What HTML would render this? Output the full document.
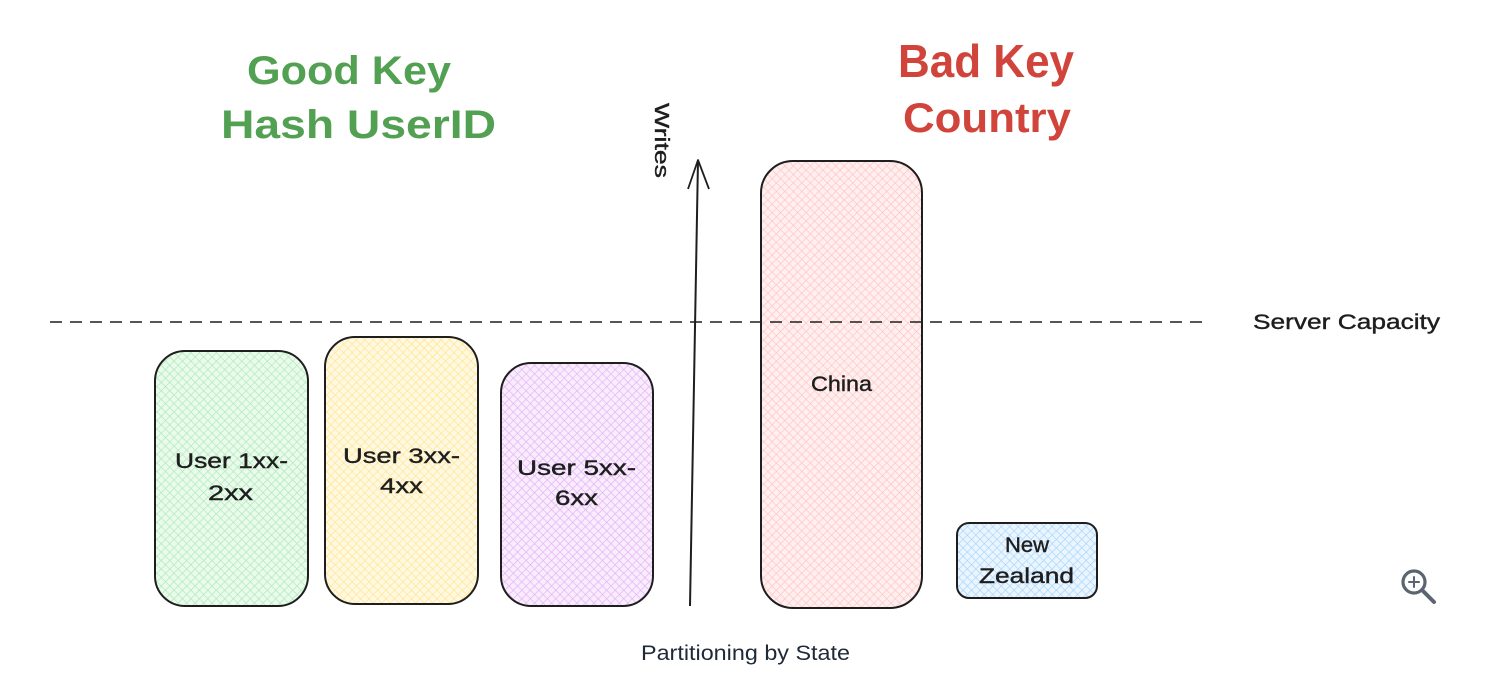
<!DOCTYPE html>
<html>
<head>
<meta charset="utf-8">
<style>
  html,body{margin:0;padding:0;background:#fff;}
  svg{display:block;}
  .hand{font-family:"Liberation Sans",sans-serif;fill:#1e1e1e;}
</style>
</head>
<body>
<svg width="1486" height="698" viewBox="0 0 1486 698" xmlns="http://www.w3.org/2000/svg">
  <defs>
    <pattern id="hg" patternUnits="userSpaceOnUse" width="6" height="6" patternTransform="rotate(45)">
      <rect width="6" height="6" fill="#eafaec"/>
      <line x1="0" y1="0" x2="0" y2="6" stroke="#a9eab3" stroke-width="1.3"/>
      <line x1="0" y1="0" x2="6" y2="0" stroke="#a9eab3" stroke-width="1.3"/>
    </pattern>
    <pattern id="hy" patternUnits="userSpaceOnUse" width="6" height="6" patternTransform="rotate(45)">
      <rect width="6" height="6" fill="#fff8e2"/>
      <line x1="0" y1="0" x2="0" y2="6" stroke="#ffe58a" stroke-width="1.3"/>
      <line x1="0" y1="0" x2="6" y2="0" stroke="#ffe58a" stroke-width="1.3"/>
    </pattern>
    <pattern id="hp" patternUnits="userSpaceOnUse" width="6" height="6" patternTransform="rotate(45)">
      <rect width="6" height="6" fill="#f9ecfd"/>
      <line x1="0" y1="0" x2="0" y2="6" stroke="#e2b0f4" stroke-width="1.3"/>
      <line x1="0" y1="0" x2="6" y2="0" stroke="#e2b0f4" stroke-width="1.3"/>
    </pattern>
    <pattern id="hr" patternUnits="userSpaceOnUse" width="6" height="6" patternTransform="rotate(45)">
      <rect width="6" height="6" fill="#ffefef"/>
      <line x1="0" y1="0" x2="0" y2="6" stroke="#ffc2c2" stroke-width="1.3"/>
      <line x1="0" y1="0" x2="6" y2="0" stroke="#ffc2c2" stroke-width="1.3"/>
    </pattern>
    <pattern id="hb" patternUnits="userSpaceOnUse" width="6" height="6" patternTransform="rotate(45)">
      <rect width="6" height="6" fill="#eaf5ff"/>
      <line x1="0" y1="0" x2="0" y2="6" stroke="#a3d4fb" stroke-width="1.3"/>
      <line x1="0" y1="0" x2="6" y2="0" stroke="#a3d4fb" stroke-width="1.3"/>
    </pattern>
  </defs>

  <!-- Titles -->
  <text x="247" y="84" font-family="Liberation Sans, sans-serif" font-weight="bold" font-size="40" fill="#52a052" textLength="204" lengthAdjust="spacingAndGlyphs">Good Key</text>
  <text x="221" y="138" font-family="Liberation Sans, sans-serif" font-weight="bold" font-size="40" fill="#52a052" textLength="275" lengthAdjust="spacingAndGlyphs">Hash UserID</text>
  <text x="898" y="77" font-family="Liberation Sans, sans-serif" font-weight="bold" font-size="46" fill="#d0443c" textLength="176" lengthAdjust="spacingAndGlyphs">Bad Key</text>
  <text x="903" y="132" font-family="Liberation Sans, sans-serif" font-weight="bold" font-size="42" fill="#d0443c" textLength="168" lengthAdjust="spacingAndGlyphs">Country</text>

  <!-- Boxes -->
  <rect x="155" y="351" width="153" height="255" rx="30" fill="url(#hg)" stroke="#1e1e1e" stroke-width="2"/>
  <rect x="325" y="337" width="153" height="267" rx="30" fill="url(#hy)" stroke="#1e1e1e" stroke-width="2"/>
  <rect x="501" y="363" width="152" height="243" rx="30" fill="url(#hp)" stroke="#1e1e1e" stroke-width="2"/>
  <rect x="761" y="161" width="161" height="447" rx="32" fill="url(#hr)" stroke="#1e1e1e" stroke-width="2"/>
  <rect x="957" y="523" width="140" height="75" rx="12" fill="url(#hb)" stroke="#1e1e1e" stroke-width="2"/>

  <!-- Dashed capacity line -->
  <line x1="50" y1="322" x2="1210" y2="322" stroke="#1e1e1e" stroke-width="1.6" stroke-dasharray="12 8"/>

  <!-- Arrow -->
  <line x1="690" y1="606" x2="698" y2="160" stroke="#1e1e1e" stroke-width="2"/>
  <polyline points="688,189 698,160 709,189" fill="none" stroke="#1e1e1e" stroke-width="1.8" stroke-linejoin="round"/>

  <!-- Box labels -->
  <g class="hand" font-size="21" stroke="#1e1e1e" stroke-width="0.4">
    <text x="175" y="468" textLength="113" lengthAdjust="spacingAndGlyphs">User 1xx-</text>
    <text x="208" y="500" textLength="45" lengthAdjust="spacingAndGlyphs">2xx</text>
    <text x="343" y="463" textLength="117" lengthAdjust="spacingAndGlyphs">User 3xx-</text>
    <text x="380" y="493" textLength="43" lengthAdjust="spacingAndGlyphs">4xx</text>
    <text x="517" y="475" textLength="119" lengthAdjust="spacingAndGlyphs">User 5xx-</text>
    <text x="555" y="505" textLength="43" lengthAdjust="spacingAndGlyphs">6xx</text>
    <text x="811" y="391" textLength="61" lengthAdjust="spacingAndGlyphs">China</text>
    <text x="1005" y="552" textLength="44" lengthAdjust="spacingAndGlyphs">New</text>
    <text x="979" y="583" textLength="95" lengthAdjust="spacingAndGlyphs">Zealand</text>
    <text x="1253" y="329" textLength="187" lengthAdjust="spacingAndGlyphs">Server Capacity</text>
  </g>

  <!-- Writes (rotated) -->
  <text class="hand" font-size="20" stroke="#1e1e1e" stroke-width="0.4" transform="translate(655,103) rotate(90)" textLength="75" lengthAdjust="spacingAndGlyphs">Writes</text>

  <!-- Caption -->
  <text x="641" y="660" font-family="Liberation Sans, sans-serif" font-size="21" fill="#1f2937" textLength="209" lengthAdjust="spacingAndGlyphs">Partitioning by State</text>

  <!-- Zoom icon -->
  <g stroke="#5b6571" fill="none" stroke-linecap="round">
    <circle cx="1414" cy="582" r="11" stroke-width="3.2"/>
    <line x1="1422" y1="590" x2="1434" y2="602" stroke-width="4"/>
    <line x1="1414" y1="577" x2="1414" y2="587" stroke-width="2"/>
    <line x1="1409" y1="582" x2="1419" y2="582" stroke-width="2"/>
  </g>
</svg>
</body>
</html>
